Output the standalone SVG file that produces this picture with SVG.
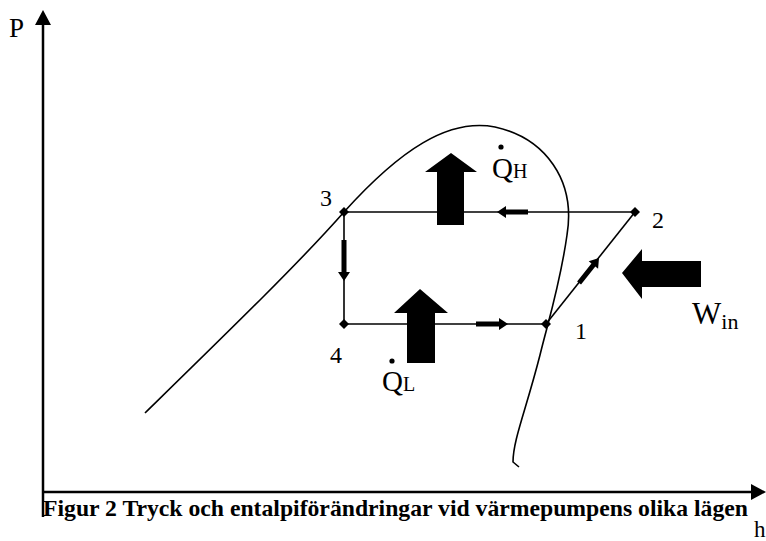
<svg xmlns="http://www.w3.org/2000/svg" width="766" height="541" viewBox="0 0 766 541">
<style>
.t{font-family:"Liberation Serif","Times New Roman",serif;fill:#000}
.ax{stroke:#000;stroke-width:2.5;fill:none}
.ln{stroke:#000;stroke-width:1.6;fill:none}
.big{fill:#000}
</style>
<defs>
<path id="dia" d="M0,-5 L5,0 L0,5 L-5,0 Z" fill="#000"/>
</defs>
<rect width="766" height="541" fill="#fff"/>
<g id="axes">
<line class="ax" x1="43" y1="517" x2="43" y2="24"/>
<path d="M43,10 L35,25 L51,25 Z" fill="#000"/>
<line class="ax" x1="43" y1="492" x2="752" y2="492"/>
<path d="M766,492 L751,484 L751,500 Z" fill="#000"/>
<text class="t" x="9" y="37" font-size="27">P</text>
<text class="t" x="754" y="537" font-size="23">h</text>
</g>
<g id="dome">
<path class="ln" d="M145,413 C230,330 300,262 344,212 C400,150 448,118 495,127 C545,138 576,180 567,235 C560,285 548,322 540,355 C526,410 513,440 513,462 L519,467"/>
</g>
<g id="connectors">
<line class="ln" x1="344" y1="212" x2="635" y2="212"/>
<line class="ln" x1="344" y1="212" x2="344" y2="324"/>
<line class="ln" x1="344" y1="324" x2="546" y2="324"/>
<line class="ln" x1="546" y1="324" x2="635" y2="212"/>
<path d="M497,212 L506,206 L506,209.5 L528,209.5 L528,214.5 L506,214.5 L506,218 Z" fill="#000"/>
<path d="M344,281 L338,272 L341.5,272 L341.5,240 L346.5,240 L346.5,272 L350,272 Z" fill="#000"/>
<path d="M508,324 L499,318 L499,321.5 L476,321.5 L476,326.5 L499,326.5 L499,330 Z" fill="#000"/>
<g transform="translate(599,258) rotate(-51.5)"><path d="M0,0 L-9,-6 L-9,-2.5 L-32,-2.5 L-32,2.5 L-9,2.5 L-9,6 Z" fill="#000"/></g>
</g>
<g id="p3"><use href="#dia" x="344" y="212"/><text class="t" x="320" y="206" font-size="24">3</text></g>
<g id="p2"><use href="#dia" x="635" y="212"/><text class="t" x="652" y="228" font-size="24">2</text></g>
<g id="p4"><use href="#dia" x="344" y="324"/><text class="t" x="330" y="363" font-size="24">4</text></g>
<g id="p1"><use href="#dia" x="546" y="324"/><text class="t" x="575" y="339" font-size="24">1</text></g>
<g id="qh">
<path class="big" d="M451,153 L477,172 L464,172 L464,225 L437,225 L437,172 L425,172 Z"/>
<circle cx="501" cy="147" r="2.6" fill="#000"/>
<text class="t" x="492" y="178" font-size="29">Q<tspan font-size="20">H</tspan></text>
</g>
<g id="ql">
<path class="big" d="M420,289 L448,313 L435,313 L435,363 L407,363 L407,313 L394,313 Z"/>
<circle cx="392" cy="361" r="2.6" fill="#000"/>
<text class="t" x="382" y="391" font-size="29">Q<tspan font-size="20">L</tspan></text>
</g>
<g id="win">
<path class="big" d="M622,273 L642,249 L642,261 L701,261 L701,287 L642,287 L642,299 Z"/>
<text class="t" x="692" y="324" font-size="31">W<tspan font-size="22" dy="5">in</tspan></text>
</g>
<text class="t" x="43" y="516" font-size="23" font-weight="bold" textLength="705" lengthAdjust="spacingAndGlyphs">Figur 2 Tryck och entalpiförändringar vid värmepumpens olika lägen</text>
</svg>
